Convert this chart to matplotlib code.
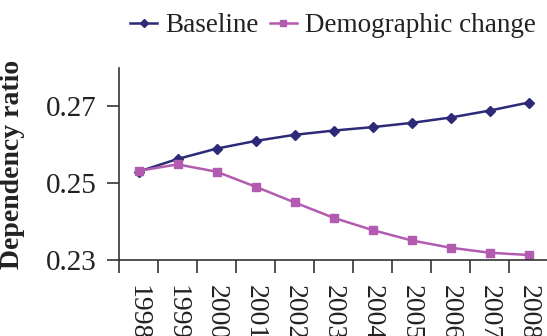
import matplotlib
matplotlib.use("Agg")
import matplotlib.pyplot as plt
from matplotlib.ticker import FixedLocator

years = ["1998", "1999", "2000", "2001", "2002", "2003", "2004", "2005", "2006", "2007", "2008"]
baseline = [0.2530, 0.2563, 0.2590, 0.2610, 0.2626, 0.2637, 0.2646, 0.2657, 0.2671, 0.2689, 0.2710]
demographic = [0.2532, 0.2549, 0.2530, 0.2491, 0.2450, 0.2410, 0.2378, 0.2351, 0.2332, 0.2319, 0.2313]
yticks = [0.23, 0.25, 0.27]

plt.rcParams['font.family'] = ['Liberation Serif', 'DejaVu Serif']

W, H = 547, 336
fig = plt.figure(figsize=(W / 100, H / 100), dpi=100)
ax = fig.add_axes([119 / W, 1 - 260 / H, (548 - 119) / W, (260 - 68) / H])

x = list(range(len(years)))
navy = '#2d2a78'
pink = '#b25bb0'
ax.plot(x, baseline, color=navy, lw=1.8, marker='D', ms=5, label='Baseline')
ax.plot(x, demographic, color=pink, lw=1.8, marker='s', ms=5.5, label='Demographic change')

ax.set_xlim(-0.5, len(years) - 0.5)
ax.set_ylim(0.23, 0.28)
ax.set_yticks(yticks)
ax.set_yticklabels([f"{v:.2f}" for v in yticks])
ax.set_xticks(x)
ax.set_xticklabels(years, rotation=270, va='top', ha='center')
ax.xaxis.set_minor_locator(FixedLocator([i - 0.5 for i in range(len(years) + 1)]))
ax.tick_params(axis='x', which='major', length=0, pad=18, labelsize=20, colors='#222222')
ax.tick_params(axis='x', which='minor', length=9, width=1.2, color='#333333', direction='out')
ax.tick_params(axis='y', length=9, width=1.2, color='#333333', pad=7, labelsize=21, labelcolor='#222222')

for s in ['top', 'right']:
    ax.spines[s].set_visible(False)
for s in ['left', 'bottom']:
    ax.spines[s].set_linewidth(1.2)
    ax.spines[s].set_color('#333333')

ax.set_ylabel('Dependency ratio', fontsize=20, fontweight='bold', color='#222222')
ax.yaxis.set_label_coords((25 - 119) / (548 - 119), 0.5)

fig.legend(loc='center', bbox_to_anchor=(333 / W, 1 - 26 / H), ncol=2, frameon=False,
           fontsize=19.5, handlelength=1.0, handletextpad=0.3, columnspacing=0.4,
           borderaxespad=0, labelcolor='#222222', markerscale=0.8)

fig.savefig('out.png', dpi=100)
